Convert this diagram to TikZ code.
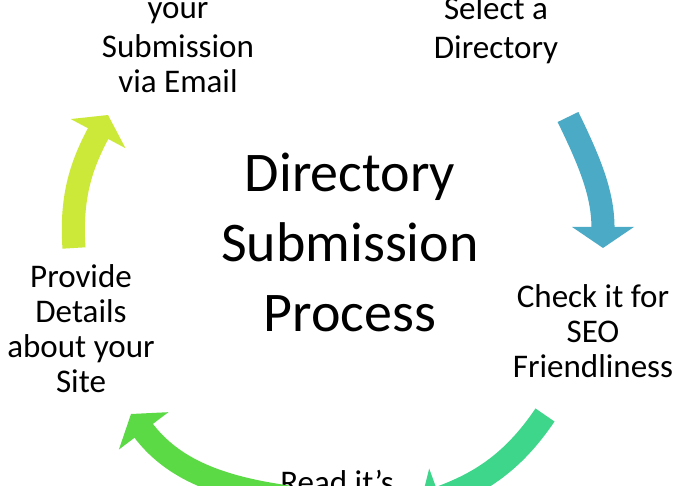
\documentclass[tikz,border=0pt]{standalone}
\usepackage{fontspec}
\setmainfont{Carlito}
\usetikzlibrary{arrows.meta}
\definecolor{azul}{HTML}{4BAAC6}
\definecolor{lima}{HTML}{CCE838}
\definecolor{verde}{HTML}{5CDA46}
\definecolor{turquesa}{HTML}{3ED68B}
\begin{document}
\begin{tikzpicture}[x=0.025cm, y=0.025cm,
	flecha/.style={line width=16.4pt, -{Triangle[width=43.4pt, length=15pt]}},
	paso/.style={align=center, font=\fontsize{23.5}{24.9}\selectfont, anchor=base, inner sep=0pt},
	titulo/.style={align=center, font=\fontsize{39.8}{49.8}\selectfont, anchor=base, inner sep=0pt}]
		% Marco
			\useasboundingbox (0,0) rectangle (680,486);
			\fill[white] (0,0) rectangle (680,486);
			\clip (0,0) rectangle (680,486);

		% Textos (base = ultima linea)
			\node[titulo] (proceso) at (350,154) {Directory\\Submission\\Process};
			\node[paso] (email) at (178,393) {your\\[3pt]Submission\\via Email};
			\node[paso] (directorio) at (496,427) {Select a\\[3pt]Directory};
			\node[paso] (seo) at (593,108) {Check it for\\SEO\\Friendliness};
			\node[paso] (normas) at (337,-8) {Read it’s};
			\node[paso] (detalles) at (81,93) {Provide\\Details\\about your\\Site};

		% Extremos de las flechas
			\coordinate (azul-a) at (568,369);
			\coordinate (azul-b) at (603,238);
			\coordinate (turquesa-a) at (545,71);
			\coordinate (turquesa-b) at (420,-19);
			\coordinate (verde-a) at (288,-11);
			\coordinate (verde-b) at (131,72);
			\coordinate (lima-a) at (74,238);
			\coordinate (lima-b) at (108,371);

		% Flechas
			\draw[flecha, azul] (azul-a) to[out=-64, in=90] (azul-b);
			\draw[flecha, turquesa] (turquesa-a) to[out=236, in=20] (turquesa-b);
			\draw[flecha, verde] (verde-a) to[out=172, in=-53] (verde-b);
			\draw[flecha, lima] (lima-a) to[out=94, in=242] (lima-b);
	\end{tikzpicture}
\end{document}
